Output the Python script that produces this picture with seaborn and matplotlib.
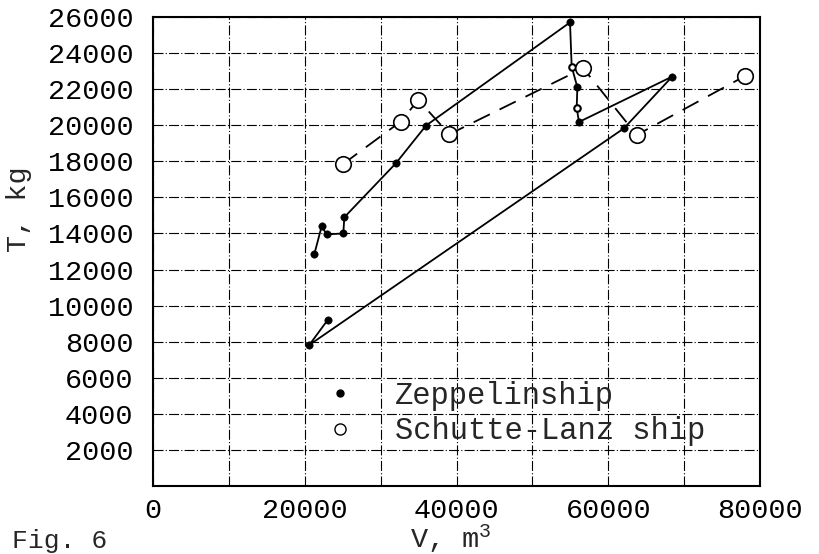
import pandas as pd
import matplotlib
matplotlib.use("Agg")
import matplotlib.pyplot as plt
from matplotlib.lines import Line2D
import seaborn as sns

# Zeppelin ships, in the order the solid line joins them
zepVolume = [21260, 22230, 22890, 25080, 25220, 32030, 35980, 54960, 55180,
             55930, 55840, 56140, 68440, 62070, 20600, 23020]
zepLift = [12850, 14400, 13950, 14000, 14900, 17900, 19980, 25700, 23250,
           22100, 20970, 20180, 22700, 19830, 7820, 9200]
zepHollow = [False, False, False, False, False, False, False, False, True,
             False, True, False, False, False, False, False]

# Schutte-Lanz ships, joined by the dashed line
slVolume = [24990, 32640, 34960, 39060, 56700, 63750, 78030]
slLift = [17830, 20200, 21400, 19500, 23160, 19460, 22730]

xTicks = [0, 10000, 20000, 30000, 40000, 50000, 60000, 70000, 80000]
xTickLabels = ['0', '', '20000', '', '40000', '', '60000', '', '80000']
yTicks = list(range(2000, 26001, 2000))


def plot_lift_vs_volume():
    sns.set_style("white")
    plt.rcParams['font.family'] = ['Liberation Mono', 'DejaVu Sans Mono']
    plt.rcParams['mathtext.default'] = 'regular'

    fig = plt.figure(figsize=(8.19, 5.54), dpi=100)
    ax = fig.add_axes([153 / 819, 68 / 554, 607 / 819, 469 / 554])

    zepDf = pd.DataFrame({'V': zepVolume, 'T': zepLift, 'hollow': zepHollow})
    slDf = pd.DataFrame({'V': slVolume, 'T': slLift})

    # connecting lines
    sns.lineplot(data=zepDf, x='V', y='T', sort=False, estimator=None,
                 color='black', linewidth=1.3, ax=ax, zorder=3)
    sns.lineplot(data=slDf, x='V', y='T', sort=False, estimator=None,
                 color='black', linewidth=1.3, ax=ax, zorder=3,
                 dashes=False, linestyle=(0, (10, 6)))

    # markers
    solid = zepDf[~zepDf['hollow']]
    hollow = zepDf[zepDf['hollow']]
    sns.scatterplot(data=solid, x='V', y='T', color='black', s=28,
                    edgecolor='black', ax=ax, zorder=4)
    sns.scatterplot(data=hollow, x='V', y='T', color='white', s=22,
                    edgecolor='black', linewidth=1.5, ax=ax, zorder=4)
    sns.scatterplot(data=slDf, x='V', y='T', color='white', s=125,
                    edgecolor='black', linewidth=1.2, ax=ax, zorder=4)

    ax.set_xlim(0, 80000)
    ax.set_ylim(0, 26000)
    ax.set_xticks(xTicks)
    ax.set_xticklabels(xTickLabels)
    ax.set_yticks(yTicks)
    ax.set_yticklabels([str(v) for v in yTicks])
    ax.tick_params(axis='both', length=0, labelsize=20.5, colors='black')
    ax.tick_params(axis='y', pad=14)
    ax.tick_params(axis='x', pad=9)

    ax.grid(True, color='black', linewidth=0.8, linestyle=(0, (9, 2, 1, 2)))
    for spine in ax.spines.values():
        spine.set_color('black')
        spine.set_linewidth(1.5)

    ax.set_xlabel('V, m$^3$', fontsize=20.5, labelpad=0)
    ax.xaxis.set_label_coords(0.49, -0.078)
    ax.set_ylabel('T, kg', fontsize=20.5)
    ax.yaxis.set_label_coords(-0.2, 0.59)

    handles = [
        Line2D([], [], marker='o', color='black', linestyle='none',
               markersize=5, label='Zeppelinship'),
        Line2D([], [], marker='o', color='black', markerfacecolor='white',
               linestyle='none', markersize=8, label='Schutte-Lanz ship'),
    ]
    ax.legend(handles=handles, frameon=False, fontsize=22,
              loc='upper left', bbox_to_anchor=(325 / 819, 1 - 381 / 554),
              bbox_transform=fig.transFigure, borderpad=0, borderaxespad=0,
              handlelength=1, handletextpad=1.3, labelspacing=0.18)

    fig.text(12 / 819, 1 / 554, 'Fig. 6', fontsize=19, va='bottom', ha='left')

    fig.savefig('out.png', dpi=100)
    plt.close(fig)


if __name__ == "__main__":
    plot_lift_vs_volume()
